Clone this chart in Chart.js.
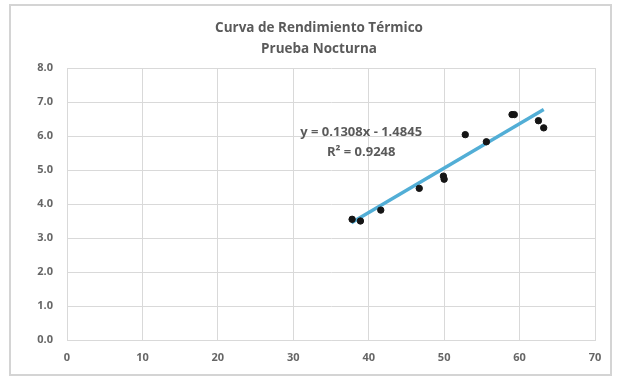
<!DOCTYPE html>
<html>
<head>
<meta charset="utf-8">
<script src="https://cdn.jsdelivr.net/npm/chart.js@4"></script>
<style>
  html, body { margin: 0; padding: 0; background: #ffffff; }
  #wrap { position: relative; width: 618px; height: 379px; }
  #frame { position: absolute; left: 9px; top: 4px; width: 603px; height: 372px;
           border: 2px solid #d4d4d4; box-sizing: border-box; pointer-events: none; }
  canvas { position: absolute; left: 0; top: 0; }
</style>
</head>
<body>
<div id="wrap">
  <canvas id="c" width="618" height="379"></canvas>
  <div id="frame"></div>
</div>
<script>
// ---- data ----
const titleLines = ["Curva de Rendimiento Térmico", "Prueba Nocturna"];
const xValues = [37.8, 38.9, 41.6, 46.7, 49.9, 50.0, 52.8, 55.6, 59.0, 59.3, 62.5, 63.2];
const yValues = [3.55, 3.50, 3.82, 4.46, 4.82, 4.73, 6.04, 5.83, 6.63, 6.63, 6.45, 6.24];
const trendX = [37.7, 63.2];
const trendY = [3.45, 6.78];
const equationLines = ["y = 0.1308x - 1.4845", "R\u00B2 = 0.9248"];
const xTicks = [0, 10, 20, 30, 40, 50, 60, 70];
const yTicks = [0, 1, 2, 3, 4, 5, 6, 7, 8];

const FONT = "'Open Sans', 'Liberation Sans', sans-serif";
const TEXT = '#5a5a5a';

const points = xValues.map((x, i) => ({ x: x, y: yValues[i] }));
const trend = trendX.map((x, i) => ({ x: x, y: trendY[i] }));

const textPlugin = {
  id: 'texts',
  afterDatasetsDraw(chart) {
    const { ctx, scales } = chart;
    ctx.save();
    ctx.fillStyle = TEXT;
    ctx.textAlign = 'center';
    ctx.textBaseline = 'middle';
    ctx.font = "bold 13.5px " + FONT;
    ctx.fillText(titleLines[0], 319, 28);
    ctx.fillText(titleLines[1], 319, 49);
    const cx = scales.x.getPixelForValue(39.0);
    ctx.font = "bold 13px " + FONT;
    ctx.fillText(equationLines[0], cx, scales.y.getPixelForValue(6.12));
    ctx.fillText(equationLines[1], cx, scales.y.getPixelForValue(5.53));
    ctx.restore();
  }
};

new Chart(document.getElementById('c'), {
  type: 'scatter',
  data: {
    datasets: [
      {
        label: 'Trend',
        type: 'line',
        data: trend,
        borderColor: '#52aed6',
        borderWidth: 3.5,
        pointRadius: 0,
        fill: false,
        order: 2
      },
      {
        label: 'Datos',
        data: points,
        backgroundColor: '#151515',
        borderColor: '#151515',
        pointRadius: 3.2,
        order: 1
      }
    ]
  },
  options: {
    responsive: false,
    animation: false,
    events: [],
    layout: { padding: { left: 20, right: 23, top: 68, bottom: 10 } },
    plugins: {
      legend: { display: false },
      tooltip: { enabled: false },
      title: { display: false }
    },
    scales: {
      x: {
        type: 'linear',
        min: 0, max: 70,
        afterBuildTicks(scale) { scale.ticks = xTicks.map(v => ({ value: v })); },
        afterFit(scale) { scale.height = 29; },
        grid: { color: '#d9d9d9', lineWidth: 1, drawTicks: false },
        border: { display: true, color: '#d9d9d9', width: 1 },
        ticks: { color: '#666666', font: { family: FONT, size: 11, weight: 'bold' }, padding: 11, maxRotation: 0 }
      },
      y: {
        type: 'linear',
        min: 0, max: 8,
        afterBuildTicks(scale) { scale.ticks = yTicks.map(v => ({ value: v })); },
        afterFit(scale) { scale.width = 47; },
        grid: { color: '#d9d9d9', lineWidth: 1, drawTicks: false },
        border: { display: true, color: '#d9d9d9', width: 1 },
        ticks: {
          color: '#666666', font: { family: FONT, size: 11, weight: 'bold' }, padding: 14,
          callback: v => Number(v).toFixed(1)
        }
      }
    }
  },
  plugins: [textPlugin]
});
</script>
</body>
</html>
